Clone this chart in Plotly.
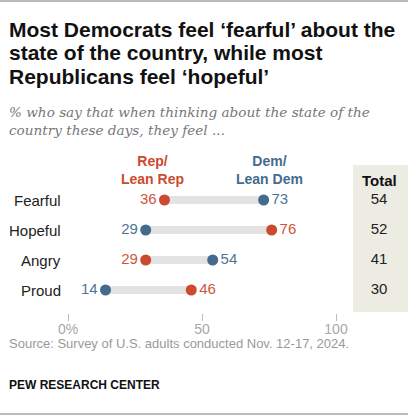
import plotly.graph_objects as go

# data
feelings = ['Fearful', 'Hopeful', 'Angry', 'Proud']
rep = [36, 76, 29, 46]
dem = [73, 29, 54, 14]
total = [54, 52, 41, 30]
x_ticks = [0, 50, 100]
x_tick_labels = ['0%', '50', '100']

W, H = 408, 417
RED, BLUE, GRAY_BAR = '#CC4A2F', '#436B8D', '#E3E3E3'
BODY = 'Liberation Sans'

# pixel geometry: x=0 at px 68, x=100 at px 336
PX_PER = (336 - 68) / 100
x_lo, x_hi = -68 / PX_PER, (W - 68) / PX_PER
TOTAL_X = (379 - 68) / PX_PER
RECT_X0 = (353 - 68) / PX_PER


def py(px):  # pixel-from-top -> paper y
  return 1 - px / H


fig = go.Figure()

# grey connector bars
bx, by = [], []
for f, r, d in zip(feelings, rep, dem):
  bx += [min(r, d), max(r, d), None]
  by += [f, f, None]
fig.add_trace(go.Scatter(x=bx, y=by, mode='lines', line=dict(color=GRAY_BAR, width=8),
                         hoverinfo='skip', showlegend=False))

# dots + value labels on the outer side
rep_pos = ['middle left' if r < d else 'middle right' for r, d in zip(rep, dem)]
dem_pos = ['middle left' if d < r else 'middle right' for r, d in zip(rep, dem)]
fig.add_trace(go.Scatter(x=rep, y=feelings, mode='markers+text', text=[str(v) for v in rep],
                         textposition=rep_pos, marker=dict(color=RED, size=11),
                         textfont=dict(color='#D0553C', size=15, family=BODY),
                         name='Rep/Lean Rep', showlegend=False))
fig.add_trace(go.Scatter(x=dem, y=feelings, mode='markers+text', text=[str(v) for v in dem],
                         textposition=dem_pos, marker=dict(color=BLUE, size=11),
                         textfont=dict(color='#4F7595', size=15, family=BODY),
                         name='Dem/Lean Dem', showlegend=False))

# total column
fig.add_trace(go.Scatter(x=[TOTAL_X] * len(total), y=feelings, mode='text',
                         text=[str(v) for v in total],
                         textfont=dict(color='#222', size=15, family=BODY),
                         hoverinfo='skip', showlegend=False))
fig.add_shape(type='rect', xref='x', yref='paper', x0=RECT_X0, x1=x_hi,
              y0=py(312), y1=py(165), fillcolor='#ECECE2', line_width=0, layer='below')

# top / bottom rules
for yy in (1, 414):
  fig.add_shape(type='line', xref='paper', yref='paper', x0=0, x1=1, y0=py(yy), y1=py(yy),
                line=dict(color='#BBBBBB', width=2))

# category labels
for f in feelings:
  fig.add_annotation(x=-5 / PX_PER, y=f, text=f, xanchor='right', showarrow=False,
                     font=dict(size=15, color='#222', family=BODY))

# column headers
fig.add_annotation(x=(152 - 68) / PX_PER, y=py(170), yref='paper', text='<b>Rep/<br>Lean Rep</b>',
                   showarrow=False, font=dict(size=14, color=RED, family=BODY))
fig.add_annotation(x=(269 - 68) / PX_PER, y=py(170), yref='paper', text='<b>Dem/<br>Lean Dem</b>',
                   showarrow=False, font=dict(size=14, color=BLUE, family=BODY))
fig.add_annotation(x=TOTAL_X, y=py(180), yref='paper', text='<b>Total</b>',
                   showarrow=False, font=dict(size=15, color='#111', family=BODY))

# title (one annotation per line to keep the tight leading)
title_lines = ['Most Democrats feel ‘fearful’ about the', 'state of the country, while most',
               'Republicans feel ‘hopeful’']
for i, line in enumerate(title_lines):
  fig.add_annotation(x=7 / W, y=py(29 + 24 * i), xref='paper', yref='paper', xanchor='left',
                     yanchor='middle', showarrow=False, text=f'<b>{line}</b>',
                     font=dict(size=21, color='#111', family=BODY))

sub_lines = ['% who say that when thinking about the state of the', 'country these days, they feel ...']
for i, line in enumerate(sub_lines):
  fig.add_annotation(x=7 / W, y=py(112 + 18 * i), xref='paper', yref='paper', xanchor='left',
                     yanchor='middle', showarrow=False, text=f'<i>{line}</i>',
                     font=dict(size=13.6, color='#777', family='DejaVu Serif'))

fig.add_annotation(x=7 / W, y=py(343), xref='paper', yref='paper', xanchor='left', yanchor='middle',
                   showarrow=False, text='Source: Survey of U.S. adults conducted Nov. 12-17, 2024.',
                   font=dict(size=13, color='#9A9A9A', family=BODY))
fig.add_annotation(x=7 / W, y=py(385), xref='paper', yref='paper', xanchor='left', yanchor='middle',
                   showarrow=False, text='<b>PEW RESEARCH CENTER</b>',
                   font=dict(size=12, color='#111', family=BODY))

fig.update_layout(
  width=W, height=H, margin=dict(l=0, r=0, t=0, b=0),
  paper_bgcolor='white', plot_bgcolor='rgba(0,0,0,0)',
  xaxis=dict(range=[x_lo, x_hi], domain=[0, 1], tickvals=x_ticks, ticktext=x_tick_labels,
             showgrid=False, zeroline=False, showline=False, ticks='outside', ticklen=7,
             tickcolor='#BBBBBB', ticklabelstandoff=-4,
             tickfont=dict(size=14, color='#A8A8A8', family=BODY)),
  yaxis=dict(domain=[py(313), py(185)], range=[3.5 + 8 / 30, -0.5], type='category',
             categoryarray=feelings, showticklabels=False, showgrid=False, zeroline=False),
  showlegend=False,
)

# drop the default body margin so the 408x417 figure sits at the window's corner
fig.write_html('out.html', config={'displayModeBar': False},
               post_script="document.body.style.margin='0';")
